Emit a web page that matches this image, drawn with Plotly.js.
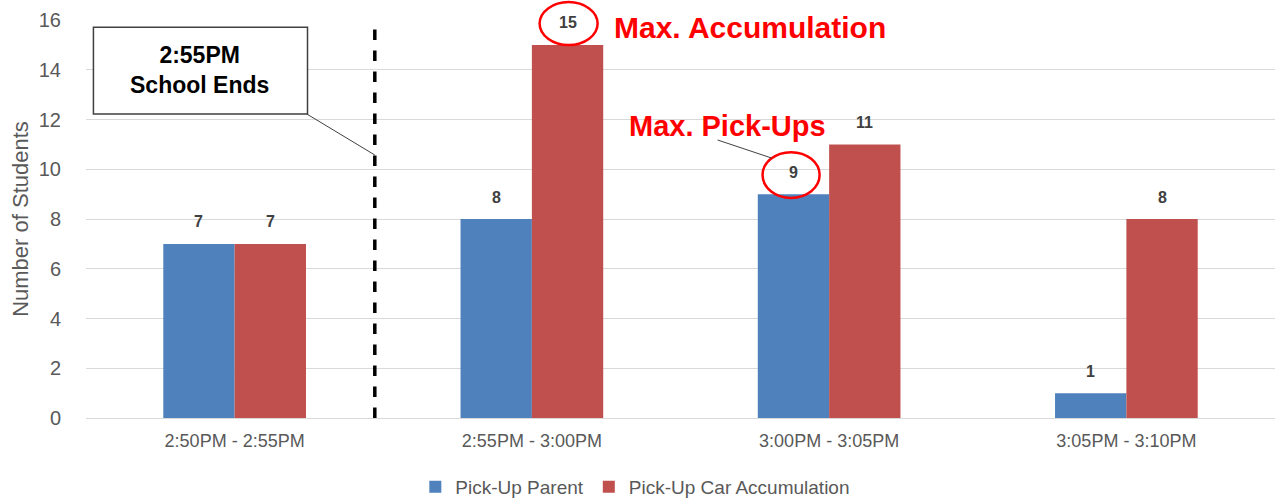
<!DOCTYPE html>
<html><head><meta charset="utf-8">
<script src="https://cdn.plot.ly/plotly-3.0.1.min.js"></script>
<style>body{margin:0;background:#fff}#chart{width:1275px;height:498px}</style>
</head><body><div id="chart"></div>
<script>
const categories = ["2:50PM - 2:55PM", "2:55PM - 3:00PM", "3:00PM - 3:05PM", "3:05PM - 3:10PM"];
const parentValues = [7, 8, 9, 1];
const accumValues = [7, 15, 11, 8];
const seriesNames = ["Pick-Up Parent", "Pick-Up Car Accumulation"];
const yTicks = [0, 2, 4, 6, 8, 10, 12, 14, 16];

const FONT = "Liberation Sans, Arial, sans-serif";
const labelFont = {family: FONT, size: 16, color: "#404040", weight: "bold"};

const traces = [
  {type: "bar", name: seriesNames[0], x: categories, y: parentValues,
   marker: {color: "#4F81BD"}},
  {type: "bar", name: seriesNames[1], x: categories, y: accumValues,
   marker: {color: "#C0504D"}}
];

// value labels placed above each bar (offset half a bar width left/right)
const barHalf = 35.7;
const valueLabels = [];
[parentValues, accumValues].forEach((vals, s) => {
  vals.forEach((v, i) => {
    valueLabels.push({xref: "x", yref: "y", x: categories[i], y: v, xshift: s === 0 ? -barHalf : barHalf,
      yshift: 22, text: "<b>" + v + "</b>", showarrow: false, font: labelFont, yanchor: "middle"});
  });
});

const red = "#FF0000";
const layout = {
  width: 1275, height: 498,
  margin: {l: 86, r: 0, t: 20, b: 80, autoexpand: false},
  paper_bgcolor: "#fff", plot_bgcolor: "#fff",
  barmode: "group", bargap: 0.52, bargroupgap: 0,
  font: {family: FONT, color: "#595959"},
  xaxis: {type: "category", tickfont: {size: 18, color: "#595959"}, showgrid: false,
          showline: true, linecolor: "#D9D9D9", linewidth: 1, ticks: "", ticklen: 0,
          tickangle: 0, ticklabelstandoff: 6, range: [-0.5, 3.5], automargin: false},
  yaxis: {range: [0, 16], tickvals: yTicks, tickfont: {size: 20, color: "#595959"},
          gridcolor: "#D9D9D9", gridwidth: 1, zeroline: false, ticklen: 0, ticks: "",
          ticklabelstandoff: 24, automargin: false,
          title: {text: "Number of Students", font: {size: 22, color: "#595959"}, standoff: 4}},
  legend: {orientation: "h", x: 0.462, xanchor: "center", y: -0.173, yanchor: "middle",
           font: {size: 19, color: "#595959"}, traceorder: "normal"},
  shapes: [
    {type: "line", xref: "paper", yref: "paper", x0: 0.2429, x1: 0.2429, y0: 0, y1: 1,
     line: {color: "#000", width: 3.5, dash: "dash"}},
    {type: "line", xref: "paper", yref: "paper", x0: 0.1857, y0: 0.7638, x1: 0.2429, y1: 0.6608,
     line: {color: "#404040", width: 1}},
    {type: "rect", xref: "paper", yref: "paper", x0: 0.00625, x1: 0.1863, y0: 0.7638, y1: 0.9815,
     fillcolor: "#fff", line: {color: "#404040", width: 1.5}},
    {type: "circle", xref: "paper", yref: "paper", x0: 0.3815, x1: 0.4303, y0: 0.937, y1: 1.045,
     line: {color: red, width: 2.5}},
    {type: "circle", xref: "paper", yref: "paper", x0: 0.569, x1: 0.617, y0: 0.553, y1: 0.668,
     line: {color: red, width: 2.5}},
    {type: "line", xref: "paper", yref: "paper", x0: 0.5312, y0: 0.6985, x1: 0.5765, y1: 0.6533,
     line: {color: "#404040", width: 1}}
  ],
  annotations: valueLabels.concat([
    {xref: "paper", yref: "paper", x: 0.0958, y: 0.874, xanchor: "center", yanchor: "middle",
     text: "<b>2:55PM<br>School Ends</b>", showarrow: false,
     font: {size: 23, color: "#000", family: FONT}, align: "center"},
    {xref: "paper", yref: "paper", x: 0.442, y: 0.98, xanchor: "left", yanchor: "middle", text: "<b>Max. Accumulation</b>", showarrow: false,
     font: {size: 30, color: red, family: FONT}},
    {xref: "paper", yref: "paper", x: 0.4546, y: 0.7337, xanchor: "left", yanchor: "middle", text: "<b>Max. Pick-Ups</b>", showarrow: false,
     font: {size: 29, color: red, family: FONT}}
  ])
};

Plotly.newPlot("chart", traces, layout, {displayModeBar: false, staticPlot: true});
</script></body></html>
